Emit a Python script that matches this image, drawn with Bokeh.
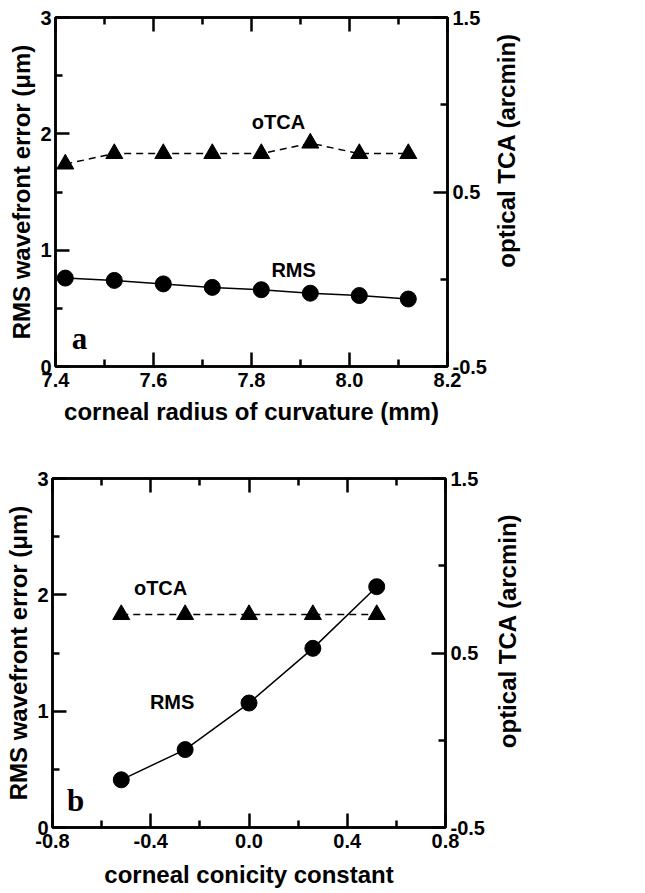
import math
from bokeh.plotting import figure
from bokeh.layouts import column, row
from bokeh.models import (Range1d, LinearAxis, FixedTicker, PrintfTickFormatter,
                          CustomJSTickFormatter)
from bokeh.core.properties import value
from bokeh.embed import file_html
from bokeh.resources import INLINE

# ---- panel a: corneal radius of curvature ----
radius_mm = [7.42, 7.52, 7.62, 7.72, 7.82, 7.92, 8.02, 8.12]
rms_a = [0.76, 0.74, 0.71, 0.68, 0.66, 0.63, 0.61, 0.58]
otca_a = [0.66, 0.72, 0.72, 0.72, 0.72, 0.78, 0.72, 0.72]

# ---- panel b: corneal conicity constant ----
conicity = [-0.52, -0.26, 0.0, 0.26, 0.52]
rms_b = [0.41, 0.67, 1.07, 1.54, 2.07]
otca_b = [0.72, 0.72, 0.72, 0.72, 0.72]

# ---- ticks ----
rms_ticks = [0, 1, 2, 3]
rms_minor = [0.5, 1.5, 2.5]
tca_ticks = [-0.5, 0.5, 1.5]
tca_minor = [0.0, 1.0]
radius_ticks = [7.4, 7.6, 7.8, 8.0, 8.2]
radius_minor = [7.5, 7.7, 7.9, 8.1]
conic_ticks = [-0.8, -0.4, 0.0, 0.4, 0.8]
conic_minor = [-0.6, -0.2, 0.2, 0.6]

FONT = "Liberation Sans"
INK = "#000000"
TCA_TITLE = "optical TCA (arcmin)"


def style_axis(ax, ticks, minor, fmt=None, labels=True):
    ax.ticker = FixedTicker(ticks=ticks, minor_ticks=minor)
    ax.axis_line_width = 2.5
    ax.axis_line_color = INK
    ax.major_tick_in = 14
    ax.major_tick_out = 0
    ax.minor_tick_in = 7
    ax.minor_tick_out = 0
    ax.major_tick_line_width = 2.5
    ax.minor_tick_line_width = 2.5
    ax.major_tick_line_color = INK
    ax.minor_tick_line_color = INK
    ax.major_label_text_font = FONT
    ax.major_label_text_font_style = "bold"
    ax.major_label_text_font_size = "20px"
    ax.major_label_text_color = INK
    ax.major_label_standoff = 6
    ax.axis_label_text_font = FONT
    ax.axis_label_text_font_style = "bold"
    ax.axis_label_text_font_size = "24px"
    ax.axis_label_text_color = INK
    if labels:
        ax.formatter = fmt if fmt is not None else PrintfTickFormatter(format="%d")
    else:
        ax.formatter = CustomJSTickFormatter(code="return ''")


def panel(xs, rms, otca, x_range, xticks, xminor, xlabel, notes, letter,
          width, height, borders, xlabel_standoff):
    left, right, top, bottom = borders
    p = figure(width=width, height=height, output_backend="svg",
               toolbar_location=None, x_range=Range1d(*x_range),
               y_range=Range1d(0, 3), min_border_left=left,
               min_border_right=right, min_border_top=top,
               min_border_bottom=bottom, x_axis_location=None,
               y_axis_location=None)
    p.extra_y_ranges = {"tca": Range1d(-0.5, 1.5)}
    p.xgrid.visible = False
    p.ygrid.visible = False
    p.outline_line_color = INK
    p.outline_line_width = 2.5
    p.background_fill_color = "white"
    p.border_fill_color = "white"

    xb = LinearAxis(axis_label=xlabel)
    style_axis(xb, xticks, xminor, PrintfTickFormatter(format="%.1f"))
    xb.axis_label_standoff = xlabel_standoff
    p.add_layout(xb, "below")

    xt = LinearAxis()
    style_axis(xt, xticks, xminor, labels=False)
    p.add_layout(xt, "above")

    yl = LinearAxis(axis_label="RMS wavefront error (μm)")
    style_axis(yl, rms_ticks, rms_minor)
    yl.major_label_standoff = 4
    yl.axis_label_standoff = 2
    p.add_layout(yl, "left")

    yr = LinearAxis(y_range_name="tca")
    style_axis(yr, tca_ticks, tca_minor, PrintfTickFormatter(format="%.1f"))
    yr.major_label_standoff = 5
    p.add_layout(yr, "right")

    # RMS wavefront error: solid line with circles
    p.line(xs, rms, line_color=INK, line_width=1.5)
    p.scatter(xs, rms, marker="circle", size=16, fill_color=INK,
              line_color=INK)

    # optical TCA: dashed line with triangles, on the right scale
    p.line(xs, otca, line_color=INK, line_width=1.5, line_dash="7 5",
           y_range_name="tca")
    p.scatter(xs, otca, marker="triangle", size=17, fill_color=INK,
              line_color=INK, y_range_name="tca")

    nx, ny, nt = notes
    p.text(nx, ny, text=nt, text_font=value(FONT), text_font_style="bold",
           text_font_size="20px", text_align="center",
           text_baseline="middle", text_color=INK)
    lx, ly, lt = letter
    p.text([lx], [ly], text=[lt], text_font=value("Liberation Serif"),
           text_font_style="bold", text_font_size="31px",
           text_align="center", text_baseline="middle", text_color=INK)
    return p


def side_title(width, height, pos):
    # narrow strip carrying the right-hand title, reading bottom-to-top
    s = figure(width=width, height=height, output_backend="svg",
               toolbar_location=None, x_range=Range1d(0, width),
               y_range=Range1d(0, height), min_border=0,
               x_axis_location=None, y_axis_location=None)
    s.xgrid.visible = False
    s.ygrid.visible = False
    s.outline_line_color = None
    s.background_fill_color = "white"
    s.border_fill_color = "white"
    s.text([pos[0]], [pos[1]], text=[TCA_TITLE], angle=math.pi / 2,
           text_font=value(FONT), text_font_style="bold",
           text_font_size="24px", text_align="center",
           text_baseline="middle", text_color=INK)
    return s


pa = panel(radius_mm, rms_a, otca_a, (7.4, 8.2), radius_ticks, radius_minor,
           "corneal radius of curvature (mm)",
           ([7.855, 7.886], [2.10, 0.83], ["oTCA", "RMS"]),
           (7.449, 0.24, "a"),
           width=491, height=444, borders=(55, 44, 17, 78),
           xlabel_standoff=8)
sa = side_title(154, 444, (15, 275))

pb = panel(conicity, rms_b, otca_b, (-0.8, 0.8), conic_ticks, conic_minor,
           "corneal conicity constant",
           ([-0.36, -0.313], [2.06, 1.08], ["oTCA", "RMS"]),
           (-0.706, 0.23, "b"),
           width=489, height=449, borders=(52, 44, 34, 66),
           xlabel_standoff=10)
sb = side_title(156, 449, (18, 253))

layout = column(row(pa, sa, spacing=0), row(pb, sb, spacing=0), spacing=0)
open("out.html", "w").write(file_html(layout, INLINE))
